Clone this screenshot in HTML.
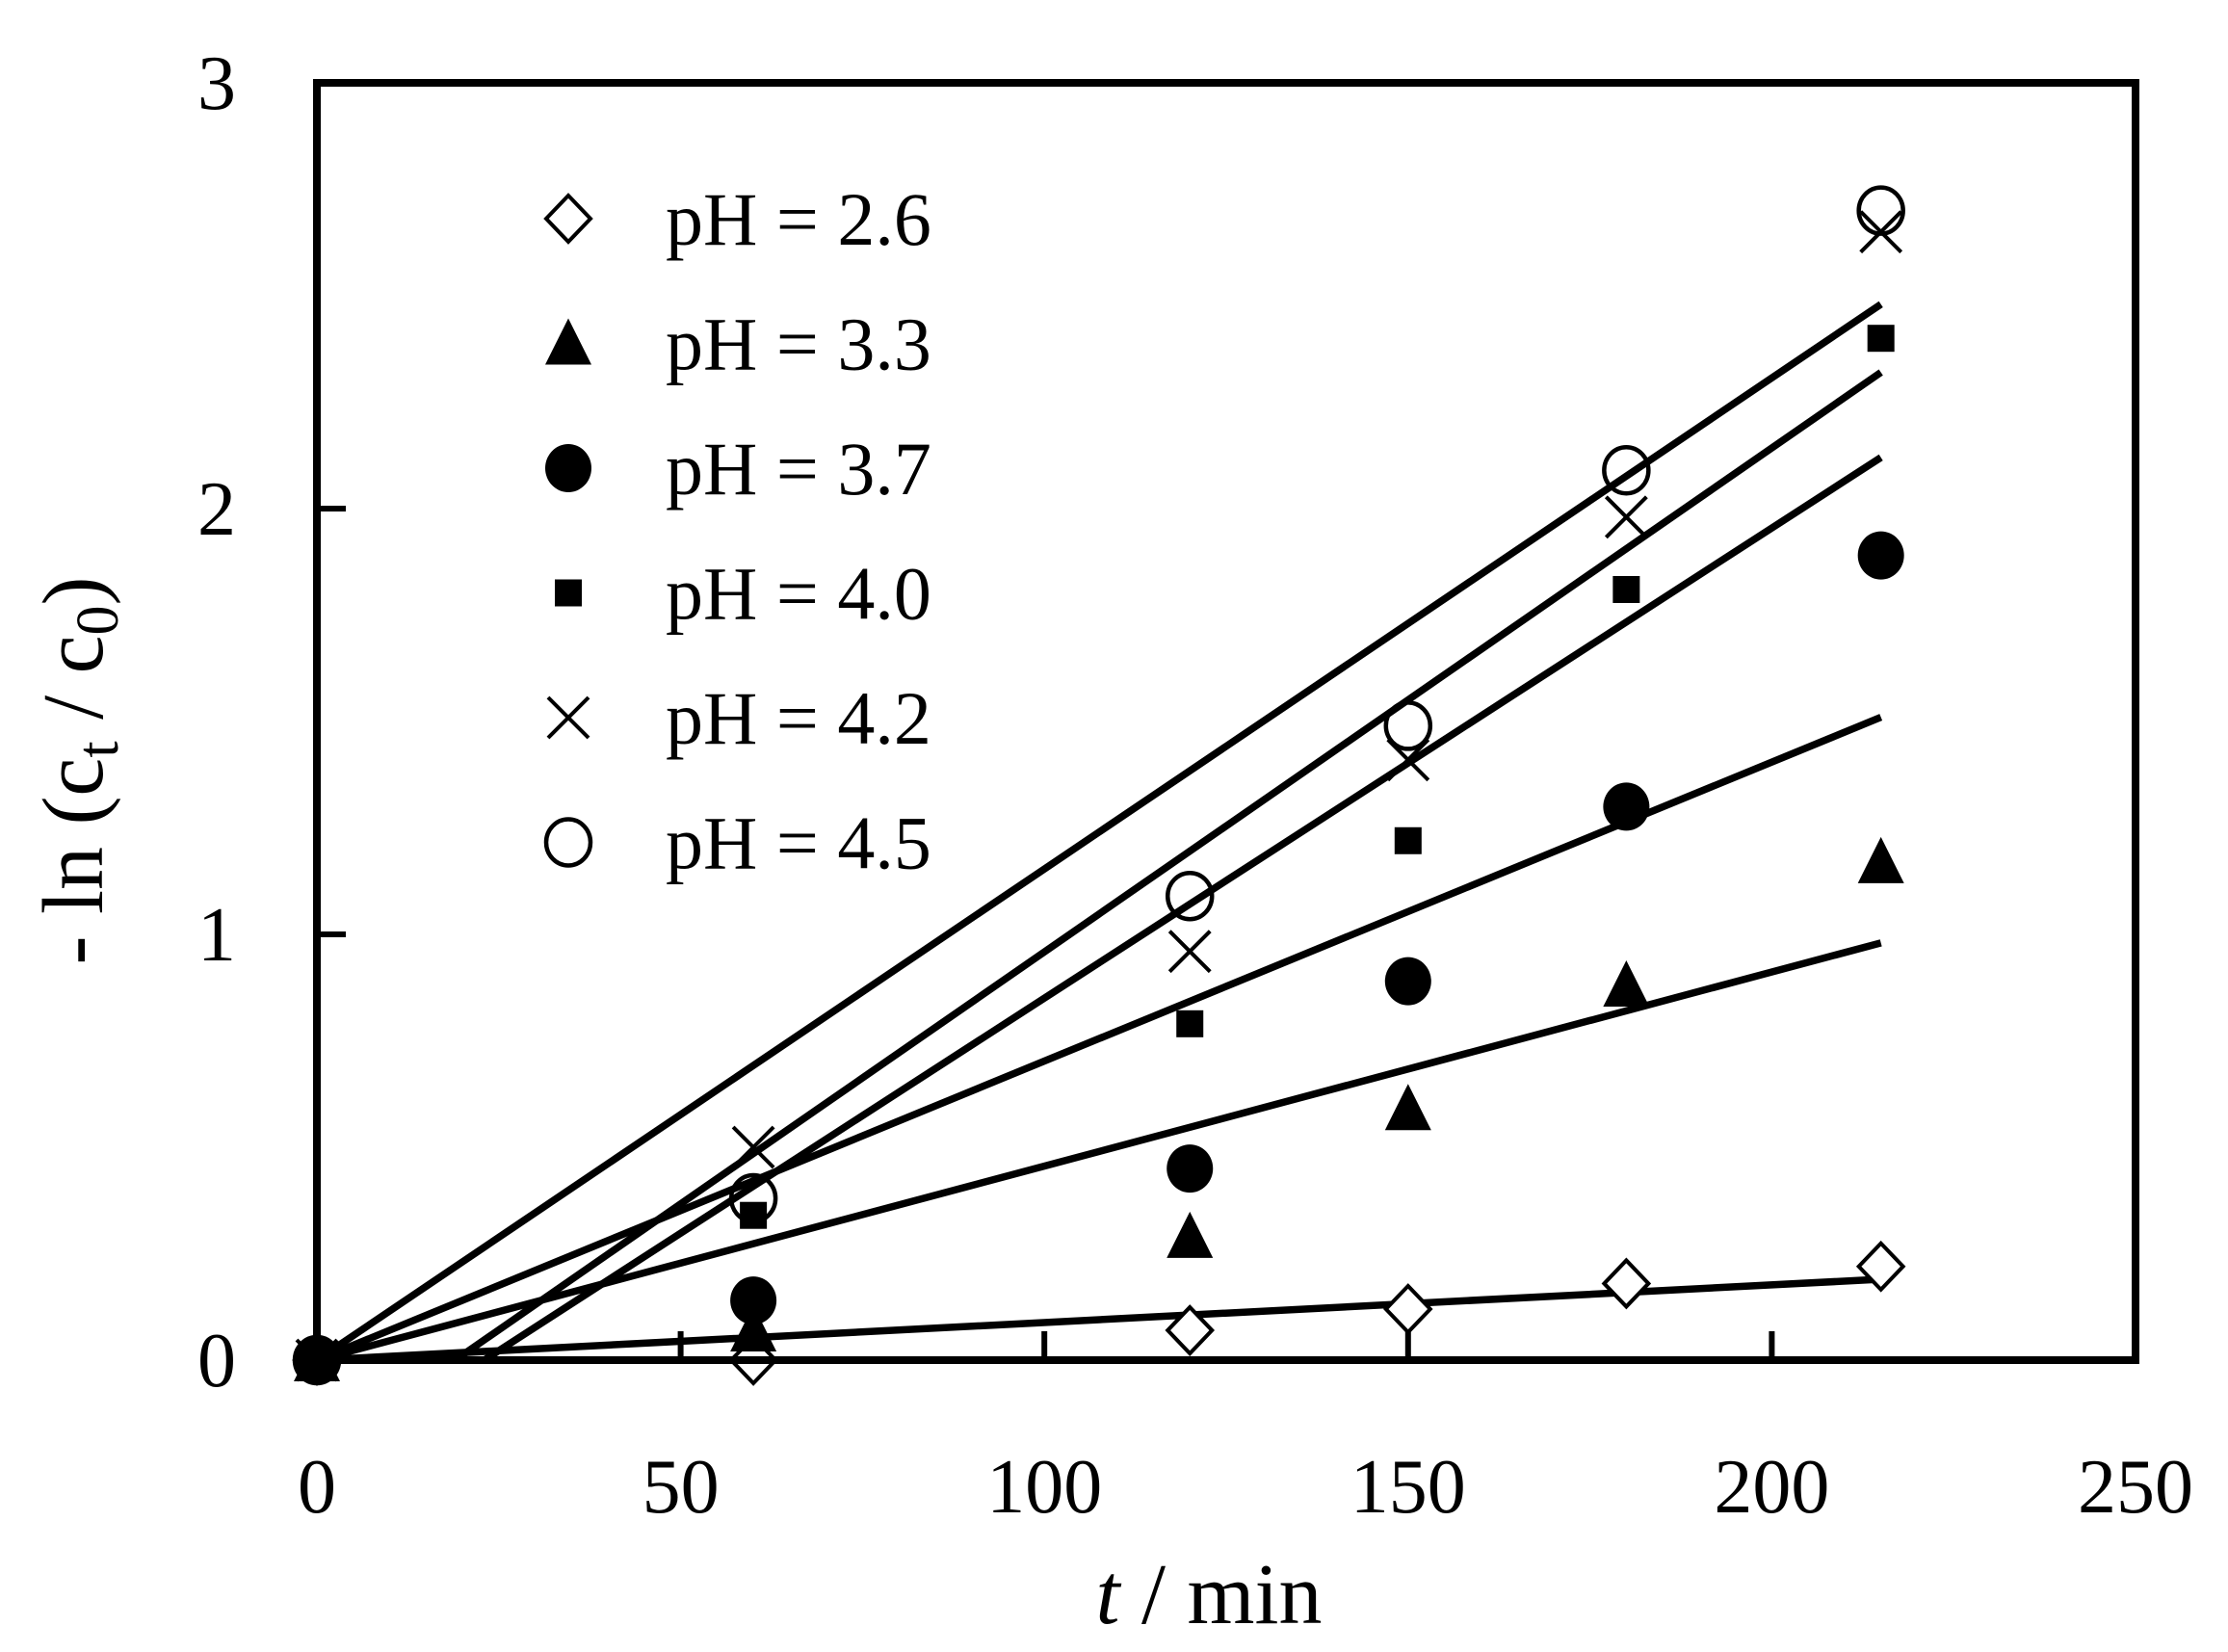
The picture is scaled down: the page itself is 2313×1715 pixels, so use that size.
<!DOCTYPE html>
<html><head><meta charset="utf-8"><style>
html,body{margin:0;padding:0;background:#fff;}
svg{display:block;font-family:"Liberation Serif",serif;}
</style></head><body>
<svg id="chart" width="2313" height="1715" viewBox="0 0 2313 1715" xmlns="http://www.w3.org/2000/svg">
<g id="lines"></g>
<g id="marks"></g>
<rect x="329" y="86" width="1888" height="1326" fill="none" stroke="#000" stroke-width="8"/>
<g id="axes"></g>
<g id="legend"></g>
<text transform="translate(106,800) rotate(-90)" text-anchor="middle" font-size="90">- ln (c<tspan font-size="62" dy="16">t</tspan><tspan dy="-16"> / c</tspan><tspan font-size="62" dy="16">0</tspan><tspan dy="-16">)</tspan></text>
<text x="1255" y="1685" text-anchor="middle" font-size="90"><tspan font-style="italic">t</tspan> / min</text>
</svg>
<script>
const xTicks=[0,50,100,150,200,250];
const yTicks=[0,1,2,3];
const times=[0,60,120,150,180,215];
const seriesNames=["pH = 2.6","pH = 3.3","pH = 3.7","pH = 4.0","pH = 4.2","pH = 4.5"];
const seriesMarkers=["diamond","triangle","circle","square","cross","ocircle"];
const s26=[0,0,0.07,0.12,0.18,0.22];
const s33=[0,0.07,0.29,0.59,0.88,1.17];
const s37=[0,0.14,0.45,0.89,1.30,1.89];
const s40=[0,0.34,0.79,1.22,1.81,2.40];
const s42=[0,0.50,0.96,1.41,1.98,2.65];
const s45=[0,0.38,1.09,1.49,2.09,2.70];
const seriesValues=[s26,s33,s37,s40,s42,s45];
// fit lines: start x, end x, end y
const fitStartX=[0,0,0,23,0,19];
const fitEndX=[215,215,215,215,215,215];
const fitEndY=[0.19,0.98,1.51,2.12,2.48,2.32];

const X0=329,X1=2217,Y0=1412,Y1=86;
const xs=v=>X0+(v-0)/250*(X1-X0);
const ys=v=>Y0-(v/3)*(Y0-Y1);
const NS="http://www.w3.org/2000/svg";
function mk(tag,attrs,parent){const e=document.createElementNS(NS,tag);for(const k in attrs)e.setAttribute(k,attrs[k]);parent.appendChild(e);return e;}

const axes=document.getElementById('axes');
xTicks.forEach(t=>{
  if(t>0&&t<250){const l=mk('line',{x1:xs(t),x2:xs(t),y1:Y0,y2:Y0-30,stroke:'#000','stroke-width':6},axes);
  
  }
  const tx=mk('text',{x:xs(t),y:1570,'text-anchor':'middle','font-size':80},axes);
  tx.textContent=t;
  
  
});
yTicks.forEach(t=>{
  if(t>0&&t<3){const l=mk('line',{x1:X0,x2:X0+30,y1:ys(t),y2:ys(t),stroke:'#000','stroke-width':6},axes);
  
  }
  const tx=mk('text',{x:245,y:ys(t)+27,'text-anchor':'end','font-size':80},axes);
  tx.textContent=t;
  
  
});

const lines=document.getElementById('lines');
fitEndY.forEach((v,i)=>{
  const l=mk('line',{x1:xs(fitStartX[i]),y1:ys(0),x2:xs(fitEndX[i]),y2:ys(v),stroke:'#000','stroke-width':7.5},lines);
  
  
});

function marker(type,cx,cy,parent){
  let e;
  if(type==='diamond')e=mk('polygon',{points:`${cx},${cy-24} ${cx+23},${cy} ${cx},${cy+24} ${cx-23},${cy}`,fill:'#fff',stroke:'#000','stroke-width':4},parent);
  else if(type==='triangle')e=mk('polygon',{points:`${cx},${cy-26} ${cx+24},${cy+22} ${cx-24},${cy+22}`,fill:'#000'},parent);
  else if(type==='circle')e=mk('ellipse',{cx:cx,cy:cy,rx:24,ry:25,fill:'#000'},parent);
  else if(type==='square')e=mk('rect',{x:cx-14,y:cy-14,width:28,height:28,fill:'#000'},parent);
  else if(type==='cross')e=mk('path',{d:`M${cx-21},${cy-21}L${cx+21},${cy+21}M${cx+21},${cy-21}L${cx-21},${cy+21}`,stroke:'#000','stroke-width':4,fill:'none'},parent);
  else e=mk('ellipse',{cx:cx,cy:cy,rx:23,ry:24,fill:'none',stroke:'#000','stroke-width':4.5},parent);
  return e;
}
const marks=document.getElementById('marks');
seriesValues.forEach((arr,i)=>{
  arr.forEach((v,j)=>{
    const e=marker(seriesMarkers[i],xs(times[j]),ys(v),marks);
    
    
  });
});
const legend=document.getElementById('legend');
seriesNames.forEach((n,i)=>{
  const y=227+i*129.5;
  const e=marker(seriesMarkers[i],590,y,legend);
  
  
  const t=mk('text',{x:691,y:y+27,'font-size':78},legend);
  t.textContent=n;
  
  
});
</script>
</body></html>
